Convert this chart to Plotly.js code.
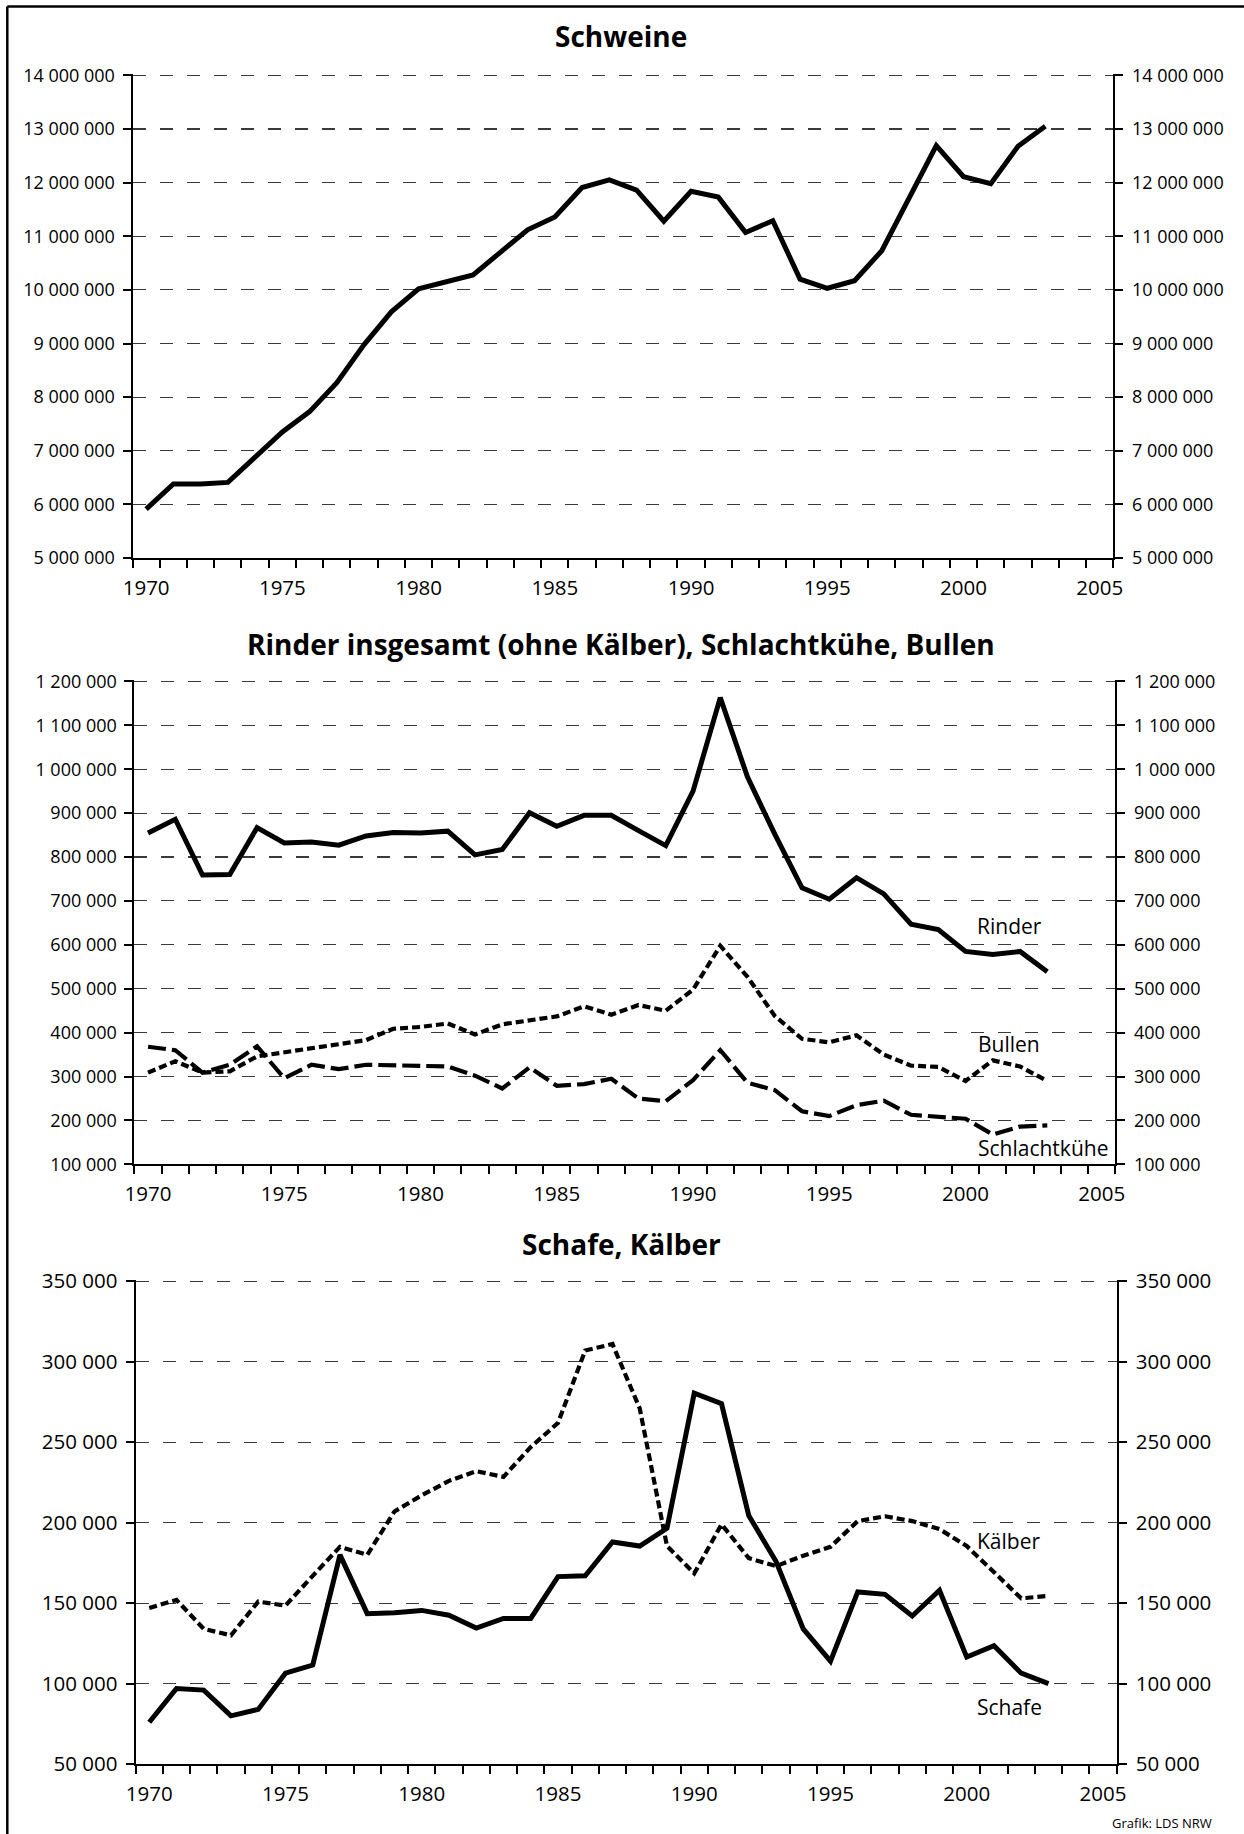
<!DOCTYPE html>
<html>
<head>
<meta charset="utf-8">
<script src="https://cdn.plot.ly/plotly-3.0.1.min.js"></script>
<style>
  html, body { margin: 0; padding: 0; background: #fff; }
  #chart { width: 1244px; height: 1834px; }
</style>
</head>
<body>
<div id="chart"></div>
<script>
// ---------- data ----------
const years = [1970,1971,1972,1973,1974,1975,1976,1977,1978,1979,1980,1981,1982,1983,1984,1985,1986,1987,1988,1989,1990,1991,1992,1993,1994,1995,1996,1997,1998,1999,2000,2001,2002,2003];

const schweine = [5910000,6380000,6380000,6410000,6880000,7350000,7730000,8270000,8980000,9590000,10020000,10160000,10280000,10700000,11120000,11360000,11910000,12050000,11860000,11280000,11840000,11730000,11070000,11290000,10200000,10030000,10170000,10730000,11730000,12690000,12110000,11980000,12680000,13050000];

const rinder = [855000,886000,759000,760000,867000,832000,834000,827000,848000,856000,855000,859000,805000,817000,901000,870000,895000,895000,860000,826000,950000,1163000,982000,852000,730000,704000,753000,716000,647000,635000,585000,578000,585000,539000];

const bullen = [309000,335000,309000,312000,346000,355000,365000,375000,383000,409000,413000,421000,396000,419000,427000,437000,460000,441000,463000,450000,498000,598000,527000,438000,386000,378000,394000,350000,325000,322000,290000,337000,323000,290000];

const schlachtkuehe = [368000,360000,309000,327000,369000,296000,327000,317000,327000,325000,325000,323000,302000,273000,321000,279000,283000,295000,250000,244000,292000,360000,286000,269000,221000,210000,235000,245000,213000,208000,204000,168000,186000,189000];

const schafe = [76000,97000,96000,80000,84000,106500,111500,180000,143500,144000,145500,142500,134500,140500,140500,166500,167000,188000,185500,196500,280500,274000,204500,176000,134000,114000,157000,155500,142000,158000,116500,123500,106500,100000];

const kaelber = [147000,152000,134000,130000,151000,148500,167000,185000,180000,207000,217000,226000,232000,228500,247000,262000,307000,311000,271000,185500,168500,199000,178000,173000,179500,185000,201000,204000,201000,196000,185500,169000,153000,154500];

const xTickVals = [1970,1975,1980,1985,1990,1995,2000,2005];
const xTickText = ['1970','1975','1980','1985','1990','1995','2000','2005'];

const titles = ['Schweine', 'Rinder insgesamt (ohne Kälber), Schlachtkühe, Bullen', 'Schafe, Kälber'];
const seriesLabels = ['Rinder', 'Bullen', 'Schlachtkühe', 'Kälber', 'Schafe'];
const sourceText = 'Grafik: LDS NRW';

// ---------- layout helpers (pixel -> paper) ----------
const W = 1244, H = 1834;
const px = v => v / W;
const py = v => 1 - v / H;

const FONT = 'Open Sans, Noto Sans, sans-serif';
const EPS = 0.003; // tiny headroom so the top gridline is kept

function xAxis(l, r, ya) {
  return {
    domain: [px(l), px(r)], anchor: ya,
    range: [1969.5, 2005.5],
    tickmode: 'array', tickvals: xTickVals, ticktext: xTickText,
    ticks: '', showgrid: false, zeroline: false,
    showline: true, linewidth: 2, linecolor: '#000',
    ticklabelstandoff: 10,
    tickfont: {family: FONT, size: 20.5, color: '#000'},
    minor: {tickmode: 'linear', tick0: 1969.5, dtick: 1, ticks: 'outside',
            ticklen: 8, tickwidth: 2, tickcolor: '#000', showgrid: false},
    fixedrange: true
  };
}
function ext(range) { return [range[0], range[1] + (range[1] - range[0]) * EPS]; }
function yLeft(t, b, range, dtick, xa, fs) {
  const top = t - (b - t) * EPS;
  return {
    domain: [py(b), py(top)], range: ext(range), dtick: dtick, tick0: range[0],
    tickmode: 'linear',
    anchor: xa, side: 'left', tickformat: ',.0f',
    ticks: 'outside', ticklen: 8, tickwidth: 2, tickcolor: '#000',
    showline: true, linewidth: 2, linecolor: '#000',
    showgrid: true, gridcolor: '#3a3a3a', gridwidth: 1.1, griddash: '13px,14px',
    zeroline: false, ticklabelstandoff: 4,
    tickfont: {family: FONT, size: fs, color: '#000'}, fixedrange: true
  };
}
function yRight(range, dtick, xa, over, fs) {
  return {
    range: ext(range), dtick: dtick, tick0: range[0], tickmode: 'linear',
    anchor: xa, overlaying: over, side: 'right', tickformat: ',.0f',
    ticks: 'outside', ticklen: 8, tickwidth: 2, tickcolor: '#000',
    showline: true, linewidth: 2, linecolor: '#000',
    showgrid: false, zeroline: false, ticklabelstandoff: 5,
    tickfont: {family: FONT, size: fs, color: '#000'}, fixedrange: true
  };
}

const r1 = [5000000, 14000000], r2 = [100000, 1200000], r3 = [50000, 350000];

const solid = {color: '#000', width: 5};
const shortDash = {color: '#000', width: 4.2, dash: '8px,4px'};
const longDash = {color: '#000', width: 4.2, dash: '18px,6px'};
const hidden = {color: 'rgba(0,0,0,0)', width: 1};

const traces = [
  {x: years, y: schweine, xaxis: 'x', yaxis: 'y', mode: 'lines', line: solid, hoverinfo: 'skip'},
  {x: years, y: bullen, xaxis: 'x2', yaxis: 'y2', mode: 'lines', line: shortDash, hoverinfo: 'skip'},
  {x: years, y: schlachtkuehe, xaxis: 'x2', yaxis: 'y2', mode: 'lines', line: longDash, hoverinfo: 'skip'},
  {x: years, y: rinder, xaxis: 'x2', yaxis: 'y2', mode: 'lines', line: solid, hoverinfo: 'skip'},
  {x: years, y: kaelber, xaxis: 'x3', yaxis: 'y3', mode: 'lines', line: shortDash, hoverinfo: 'skip'},
  {x: years, y: schafe, xaxis: 'x3', yaxis: 'y3', mode: 'lines', line: solid, hoverinfo: 'skip'},
  // invisible carriers so that the right-hand axes are drawn
  {x: years, y: schweine, xaxis: 'x', yaxis: 'y4', mode: 'lines', line: hidden, hoverinfo: 'skip'},
  {x: years, y: rinder, xaxis: 'x2', yaxis: 'y5', mode: 'lines', line: hidden, hoverinfo: 'skip'},
  {x: years, y: schafe, xaxis: 'x3', yaxis: 'y6', mode: 'lines', line: hidden, hoverinfo: 'skip'}
];

function titleAnn(text, ymid) {
  return {text: text, xref: 'paper', yref: 'paper', x: px(621), y: py(ymid),
          xanchor: 'center', yanchor: 'middle', showarrow: false,
          font: {family: FONT, size: 28, weight: 700, color: '#000'}};
}
function labelAnn(text, xl, ymid) {
  return {text: text, xref: 'paper', yref: 'paper', x: px(xl), y: py(ymid),
          xanchor: 'left', yanchor: 'middle', showarrow: false,
          font: {family: FONT, size: 21, color: '#000'}};
}

const layout = {
  width: W, height: H,
  margin: {l: 0, r: 0, t: 0, b: 0, pad: 0},
  paper_bgcolor: '#fff', plot_bgcolor: 'rgba(0,0,0,0)',
  showlegend: false, separators: ', ',
  font: {family: FONT, size: 18, color: '#000'},
  xaxis: xAxis(132.5, 1113.4, 'y'),
  xaxis2: xAxis(134.4, 1115.4, 'y2'),
  xaxis3: xAxis(135.6, 1116.6, 'y3'),
  yaxis: yLeft(75.4, 558.0, r1, 1000000, 'x', 18),
  yaxis2: yLeft(681.4, 1164.4, r2, 100000, 'x2', 18),
  yaxis3: yLeft(1281.3, 1764.1, r3, 50000, 'x3', 20.5),
  yaxis4: yRight(r1, 1000000, 'x', 'y', 18),
  yaxis5: yRight(r2, 100000, 'x2', 'y2', 18),
  yaxis6: yRight(r3, 50000, 'x3', 'y3', 20.5),
  annotations: [
    titleAnn(titles[0], 36),
    titleAnn(titles[1], 644),
    titleAnn(titles[2], 1244),
    labelAnn(seriesLabels[0], 974.5, 926),
    labelAnn(seriesLabels[1], 975.5, 1043.6),
    labelAnn(seriesLabels[2], 975.5, 1147.6),
    labelAnn(seriesLabels[3], 974.5, 1541.3),
    labelAnn(seriesLabels[4], 974.5, 1706.7),
    {text: sourceText, xref: 'paper', yref: 'paper', x: px(1214), y: py(1823),
     xanchor: 'right', yanchor: 'middle', showarrow: false,
     font: {family: FONT, size: 13, color: '#000'}}
  ],
  shapes: [
    {type: 'line', xref: 'paper', yref: 'paper', x0: px(7.3), x1: 1, y0: py(6.5), y1: py(6.5),
     line: {color: '#000', width: 2.5}},
    {type: 'line', xref: 'paper', yref: 'paper', x0: px(7.3), x1: px(7.3), y0: 0, y1: py(6.5),
     line: {color: '#000', width: 2.5}}
  ]
};

Plotly.newPlot('chart', traces, layout, {staticPlot: true, displayModeBar: false});
</script>
</body>
</html>
